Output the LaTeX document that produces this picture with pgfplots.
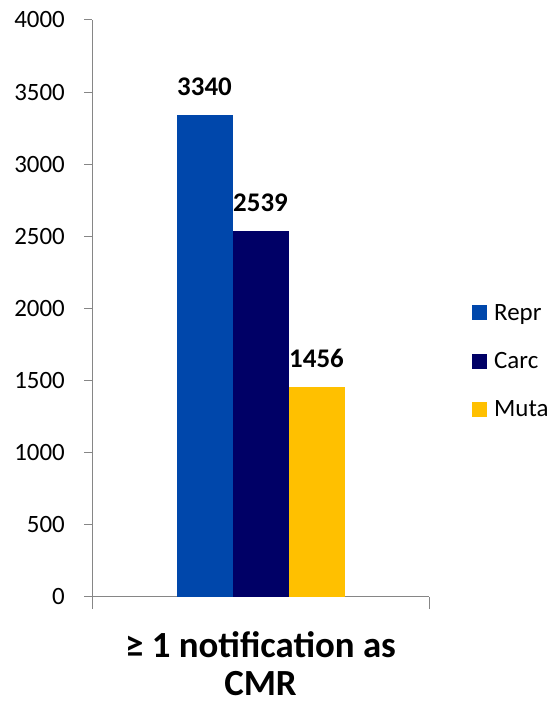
\documentclass[border=0pt]{standalone}
\usepackage{fontspec}
\setmainfont{Carlito}
\usepackage{pgfplots}
\pgfplotsset{compat=1.18}

\definecolor{reprblue}{HTML}{0047AB}
\definecolor{carcnavy}{HTML}{000066}
\definecolor{mutagold}{HTML}{FFC000}
\definecolor{axisgray}{HTML}{868686}

\begin{document}
\begin{tikzpicture}[x=1bp,y=1bp]
\useasboundingbox (0,0) rectangle (551,705);
\begin{axis}[
  at={(92bp,108bp)}, anchor=south west,
  scale only axis, width=337bp, height=577bp,
  ybar=0pt, bar width=56bp,
  xmin=-0.5, xmax=0.5, ymin=0, ymax=4000,
  axis lines*=left,
  axis line style={axisgray, line width=1bp},
  every tick/.style={axisgray, line width=1bp},
  tick align=outside,
  major tick length=8bp,
  ytick={0,500,...,4000},
  yticklabel style={font=\fontsize{25}{30}\selectfont, inner sep=0pt, xshift=-19bp},
  /pgf/number format/assume math mode=true,
  /pgf/number format/1000 sep={},
  xtick={0},
  xticklabels={{\bfseries ≥ 1 notification as\\\bfseries CMR}},
  x tick style={draw=none},
  xticklabel style={font=\fontsize{37}{39}\selectfont, align=center, anchor=north, inner sep=0pt, yshift=-26bp},
  extra x ticks={-0.5,0.5},
  extra x tick labels={},
  extra x tick style={major tick length=12bp, x tick style={draw=axisgray}},
  nodes near coords,
  nodes near coords style={font=\bfseries\fontsize{27}{32}\selectfont, anchor=south, inner sep=0pt, yshift=19bp, black},
  legend style={at={(rel axis cs:1.1276,0.409)}, anchor=west, draw=none, inner sep=0pt,
    font=\fontsize{25}{30}\selectfont, row sep=30.5bp,
    nodes={inner sep=0pt, anchor=west}},
  legend cell align=left,
  legend image code/.code={\fill[#1] (0bp,-7.5bp) rectangle (15bp,7.5bp);},
]
\addplot[fill=reprblue, draw=none] coordinates {(0,3340)};
\addplot[fill=carcnavy, draw=none] coordinates {(0,2539)};
\addplot[fill=mutagold, draw=none] coordinates {(0,1456)};
\legend{\hspace{7bp}Repr,\hspace{7bp}Carc,\hspace{7bp}Muta}
\end{axis}
\end{tikzpicture}
\end{document}
